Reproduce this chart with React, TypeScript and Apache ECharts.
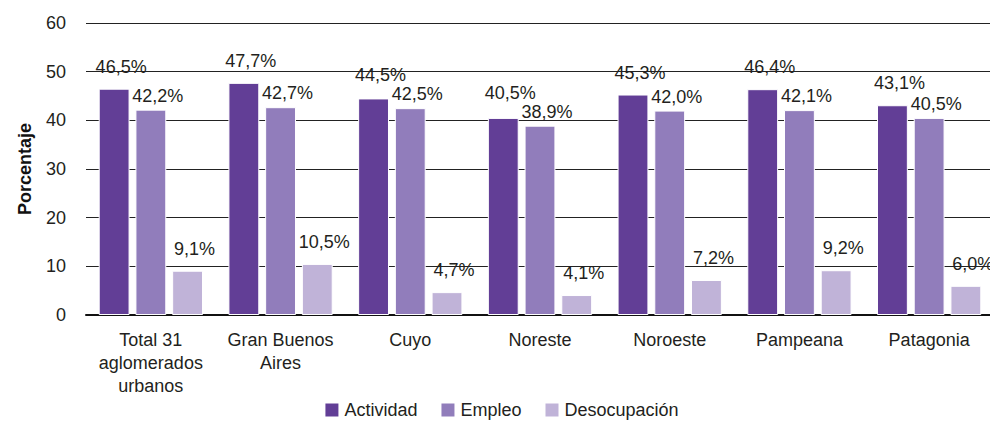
import React, { useEffect, useRef } from "react";
import * as echarts from "echarts";

const categories = [
  "Total 31\naglomerados\nurbanos",
  "Gran Buenos\nAires",
  "Cuyo",
  "Noreste",
  "Noroeste",
  "Pampeana",
  "Patagonia",
];
const actividad = [46.5, 47.7, 44.5, 40.5, 45.3, 46.4, 43.1];
const empleo = [42.2, 42.7, 42.5, 38.9, 42.0, 42.1, 40.5];
const desocupacion = [9.1, 10.5, 4.7, 4.1, 7.2, 9.2, 6.0];
const seriesNames = ["Actividad", "Empleo", "Desocupación"];
const colors = ["#623e96", "#917dbb", "#c0b3d8"];

const FONT = "'Liberation Sans', Arial, Helvetica, sans-serif";
const PLOT_H = 292;
const Y_MAX = 60;

export default function App() {
  const ref = useRef<HTMLDivElement>(null);
  useEffect(() => {
    if (!ref.current) return;
    const chart = echarts.init(ref.current, null, { renderer: "svg" });
    const fmt = (p: any) => p.value.toFixed(1).replace(".", ",") + "%";
    const pxPerUnit = PLOT_H / Y_MAX;
    const labelBase = {
      show: true,
      position: "top",
      offset: [7, 0],
      formatter: fmt,
      fontFamily: FONT,
      fontSize: 18,
      color: "#231f20",
    };
    const empDist = 5;
    // raise an Actividad label enough to clear the Empleo label beside it
    const actData = actividad.map((v, i) => ({
      value: v,
      label: { distance: Math.max(13, empDist + 19 - (v - empleo[i]) * pxPerUnit) },
    }));
    const mk = (name: string, data: any[], color: string, distance: number) => ({
      name,
      type: "bar",
      data,
      barGap: "19%",
      barCategoryGap: "19.6%",
      itemStyle: { color, borderColor: "#fff", borderWidth: 1 },
      label: { ...labelBase, distance },
    });
    chart.setOption({
      animation: false,
      color: colors,
      textStyle: { fontFamily: FONT },
      grid: { left: 72, right: 0, top: 15, bottom: 106, containLabel: false },
      legend: {
        top: 388,
        left: "center",
        itemWidth: 15,
        itemHeight: 15,
        itemGap: 22,
        icon: "rect",
        textStyle: { fontFamily: FONT, fontSize: 18, color: "#231f20" },
        data: seriesNames,
      },
      xAxis: {
        type: "category",
        data: categories,
        axisLine: { show: true, lineStyle: { color: "#111", width: 2 } },
        axisTick: { show: false },
        axisLabel: {
          fontFamily: FONT,
          fontSize: 18,
          color: "#231f20",
          lineHeight: 23,
          margin: 13,
          interval: 0,
        },
      },
      yAxis: {
        type: "value",
        min: 0,
        max: Y_MAX,
        interval: 10,
        name: "Porcentaje",
        nameLocation: "middle",
        nameGap: 52,
        nameTextStyle: { fontFamily: FONT, fontSize: 18, fontWeight: "bold", color: "#111" },
        axisLine: { show: false },
        axisTick: { show: false },
        axisLabel: { fontFamily: FONT, fontSize: 18, color: "#231f20", margin: 20 },
        splitLine: { lineStyle: { color: "#222", width: 1 } },
      },
      series: [
        mk(seriesNames[0], actData, colors[0], 13),
        mk(seriesNames[1], empleo, colors[1], empDist),
        mk(seriesNames[2], desocupacion, colors[2], 13),
      ],
    });
    return () => chart.dispose();
  }, []);
  return <div ref={ref} style={{ width: 986, height: 413 }} />;
}
